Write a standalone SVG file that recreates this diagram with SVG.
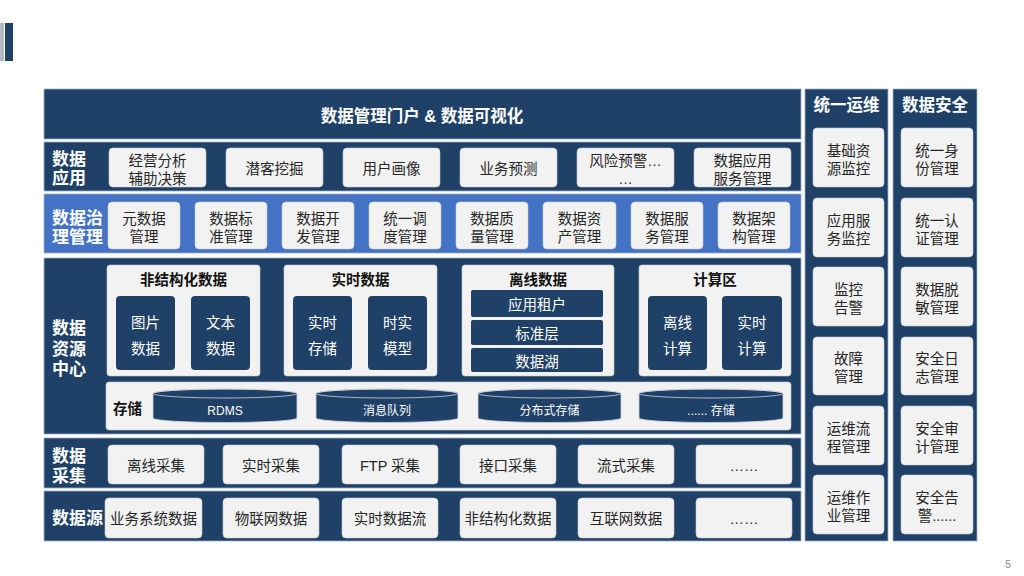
<svg xmlns="http://www.w3.org/2000/svg" width="1024" height="576" viewBox="0 0 1024 576">
<style>
text{font-family:"Liberation Sans","Noto Sans CJK SC",sans-serif;dominant-baseline:central}
.band{fill:#1F4167;stroke:#9fb0c4;stroke-width:0.8}
.gov{fill:#4472C4;stroke:#9fb0c4;stroke-width:0.8}
.box{fill:#F2F2F2;stroke:#c9cdd2;stroke-width:0.6}
.dbox{fill:#1F4167}
.lbl{fill:#fff;font-size:17px;font-weight:bold}
.bt{fill:#262626;font-size:14.5px;text-anchor:middle}
.wt{fill:#fff;font-size:14.5px;text-anchor:middle}
.pt{fill:#111;font-size:14.5px;font-weight:bold;text-anchor:middle}
.hd{fill:#fff;font-size:16.5px;font-weight:bold;text-anchor:middle}
.cyl{fill:#1F4167;stroke:#d0d6de;stroke-width:0.8}
.rim{fill:none;stroke:#d0d6de;stroke-width:0.8}
.ct{fill:#fff;font-size:12px;text-anchor:middle}
</style>

<g id="deco">
<rect x="0" y="23" width="4" height="38" fill="#b6bac2"/>
<rect x="5" y="23" width="8" height="38" fill="#1F4167"/>
</g>

<g id="portal">
<rect class="band" x="44" y="89" width="757" height="50"/>
<text class="hd" x="422" y="116" font-size="16px">数据管理门户 &amp; 数据可视化</text>
</g>

<g id="app">
<rect class="band" x="44" y="142" width="757" height="49"/>
<text class="lbl" x="52" y="159">数据<tspan x="52" dy="19">应用</tspan></text>
<rect class="box" x="109" y="148" width="97" height="39" rx="4"/>
<text class="bt" x="157.5" y="161">经营分析<tspan x="157.5" dy="18">辅助决策</tspan></text>
<rect class="box" x="226" y="148" width="97" height="39" rx="4"/>
<text class="bt" x="274.5" y="169">潜客挖掘</text>
<rect class="box" x="343" y="148" width="97" height="39" rx="4"/>
<text class="bt" x="391.5" y="169">用户画像</text>
<rect class="box" x="460" y="148" width="97" height="39" rx="4"/>
<text class="bt" x="508.5" y="169">业务预测</text>
<rect class="box" x="577" y="148" width="97" height="39" rx="4"/>
<text class="bt" x="625.5" y="161">风险预警…<tspan x="625.5" dy="18">…</tspan></text>
<rect class="box" x="694" y="148" width="97" height="39" rx="4"/>
<text class="bt" x="742.5" y="161">数据应用<tspan x="742.5" dy="18">服务管理</tspan></text>
</g>

<g id="governance">
<rect class="gov" x="44" y="194" width="757" height="59"/>
<text class="lbl" x="52" y="218">数据治<tspan x="52" dy="19">理管理</tspan></text>
<rect class="box" x="108" y="202" width="72" height="47" rx="4"/>
<text class="bt" x="144" y="219">元数据<tspan x="144" dy="17.5">管理</tspan></text>
<rect class="box" x="195" y="202" width="72" height="47" rx="4"/>
<text class="bt" x="231" y="219">数据标<tspan x="231" dy="17.5">准管理</tspan></text>
<rect class="box" x="282" y="202" width="72" height="47" rx="4"/>
<text class="bt" x="318" y="219">数据开<tspan x="318" dy="17.5">发管理</tspan></text>
<rect class="box" x="369" y="202" width="72" height="47" rx="4"/>
<text class="bt" x="405" y="219">统一调<tspan x="405" dy="17.5">度管理</tspan></text>
<rect class="box" x="456" y="202" width="72" height="47" rx="4"/>
<text class="bt" x="492" y="219">数据质<tspan x="492" dy="17.5">量管理</tspan></text>
<rect class="box" x="543" y="202" width="73" height="47" rx="4"/>
<text class="bt" x="579.5" y="219">数据资<tspan x="579.5" dy="17.5">产管理</tspan></text>
<rect class="box" x="631" y="202" width="72" height="47" rx="4"/>
<text class="bt" x="667" y="219">数据服<tspan x="667" dy="17.5">务管理</tspan></text>
<rect class="box" x="718" y="202" width="72" height="47" rx="4"/>
<text class="bt" x="754" y="219">数据架<tspan x="754" dy="17.5">构管理</tspan></text>
</g>

<g id="resource">
<rect class="band" x="44" y="258" width="757" height="176"/>
<text class="lbl" x="52" y="328">数据<tspan x="52" dy="20.5">资源</tspan><tspan x="52" dy="20.5">中心</tspan></text>

<g id="unstructured">
<rect class="box" x="107" y="265" width="153" height="111" rx="3"/>
<text class="pt" x="183.5" y="280">非结构化数据</text>
<rect class="dbox" x="116" y="296" width="59" height="74" rx="4"/>
<text class="wt" x="145.5" y="323">图片<tspan x="145.5" dy="26">数据</tspan></text>
<rect class="dbox" x="191" y="296" width="59" height="74" rx="4"/>
<text class="wt" x="220.5" y="323">文本<tspan x="220.5" dy="26">数据</tspan></text>
</g>

<g id="realtime">
<rect class="box" x="284" y="265" width="153" height="111" rx="3"/>
<text class="pt" x="360.5" y="280">实时数据</text>
<rect class="dbox" x="293" y="296" width="59" height="74" rx="4"/>
<text class="wt" x="322.5" y="323">实时<tspan x="322.5" dy="26">存储</tspan></text>
<rect class="dbox" x="368" y="296" width="59" height="74" rx="4"/>
<text class="wt" x="397.5" y="323">时实<tspan x="397.5" dy="26">模型</tspan></text>
</g>

<g id="offline">
<rect class="box" x="462" y="265" width="152" height="111" rx="3"/>
<text class="pt" x="538" y="280">离线数据</text>
<rect class="dbox" x="471" y="290" width="132" height="27" rx="2"/>
<text class="wt" x="537" y="305">应用租户</text>
<rect class="dbox" x="471" y="320" width="132" height="25" rx="2"/>
<text class="wt" x="537" y="334">标准层</text>
<rect class="dbox" x="471" y="348" width="132" height="24" rx="2"/>
<text class="wt" x="537" y="362">数据湖</text>
</g>

<g id="compute">
<rect class="box" x="639" y="265" width="152" height="111" rx="3"/>
<text class="pt" x="715" y="280">计算区</text>
<rect class="dbox" x="648" y="296" width="59" height="74" rx="4"/>
<text class="wt" x="677.5" y="323">离线<tspan x="677.5" dy="26">计算</tspan></text>
<rect class="dbox" x="722" y="296" width="60" height="74" rx="4"/>
<text class="wt" x="752" y="323">实时<tspan x="752" dy="26">计算</tspan></text>
</g>

<g id="storage">
<rect class="box" x="106" y="382" width="685" height="48" rx="3"/>
<text x="113" y="409" fill="#111" font-size="14.5px" font-weight="bold">存储</text>
<path class="cyl" d="M153,393.5 A72,4.5 0 0 1 297,393.5 V418 A72,4.5 0 0 1 153,418 Z"/>
<ellipse class="rim" cx="225" cy="393.5" rx="72" ry="4.5"/>
<text class="ct" x="225" y="411">RDMS</text>
<path class="cyl" d="M316,393.5 A71,4.5 0 0 1 458,393.5 V418 A71,4.5 0 0 1 316,418 Z"/>
<ellipse class="rim" cx="387" cy="393.5" rx="71" ry="4.5"/>
<text class="ct" x="387" y="411">消息队列</text>
<path class="cyl" d="M478,393.5 A71.5,4.5 0 0 1 621,393.5 V418 A71.5,4.5 0 0 1 478,418 Z"/>
<ellipse class="rim" cx="549.5" cy="393.5" rx="71.5" ry="4.5"/>
<text class="ct" x="549.5" y="411">分布式存储</text>
<path class="cyl" d="M639,393.5 A72,4.5 0 0 1 783,393.5 V418 A72,4.5 0 0 1 639,418 Z"/>
<ellipse class="rim" cx="711" cy="393.5" rx="72" ry="4.5"/>
<text class="ct" x="711" y="411">...... 存储</text>
</g>
</g>

<g id="collect">
<rect class="band" x="44" y="438" width="757" height="50"/>
<text class="lbl" x="52" y="456">数据<tspan x="52" dy="20">采集</tspan></text>
<rect class="box" x="108" y="445" width="96" height="39" rx="4"/>
<text class="bt" x="156" y="466">离线采集</text>
<rect class="box" x="223" y="445" width="96" height="39" rx="4"/>
<text class="bt" x="271" y="466">实时采集</text>
<rect class="box" x="342" y="445" width="96" height="39" rx="4"/>
<text class="bt" x="390" y="466">FTP 采集</text>
<rect class="box" x="460" y="445" width="96" height="39" rx="4"/>
<text class="bt" x="508" y="466">接口采集</text>
<rect class="box" x="578" y="445" width="96" height="39" rx="4"/>
<text class="bt" x="626" y="466">流式采集</text>
<rect class="box" x="696" y="445" width="96" height="39" rx="4"/>
<text class="bt" x="744" y="466">……</text>
</g>

<g id="source">
<rect class="band" x="44" y="491" width="757" height="50"/>
<text class="lbl" x="52" y="518">数据源</text>
<rect class="box" x="105" y="498" width="97" height="40" rx="4"/>
<text class="bt" x="153.5" y="519">业务系统数据</text>
<rect class="box" x="223" y="498" width="96" height="40" rx="4"/>
<text class="bt" x="271" y="519">物联网数据</text>
<rect class="box" x="342" y="498" width="96" height="40" rx="4"/>
<text class="bt" x="390" y="519">实时数据流</text>
<rect class="box" x="460" y="498" width="96" height="40" rx="4"/>
<text class="bt" x="508" y="519">非结构化数据</text>
<rect class="box" x="578" y="498" width="96" height="40" rx="4"/>
<text class="bt" x="626" y="519">互联网数据</text>
<rect class="box" x="696" y="498" width="96" height="40" rx="4"/>
<text class="bt" x="744" y="519">……</text>
</g>

<g id="ops">
<rect class="band" x="805" y="89" width="83" height="452"/>
<text class="hd" x="846.5" y="105">统一运维</text>
<rect class="box" x="813" y="128" width="71" height="59" rx="4"/>
<text class="bt" x="848.5" y="151">基础资<tspan x="848.5" dy="18">源监控</tspan></text>
<rect class="box" x="813" y="198" width="71" height="59" rx="4"/>
<text class="bt" x="848.5" y="221">应用服<tspan x="848.5" dy="18">务监控</tspan></text>
<rect class="box" x="813" y="267" width="71" height="59" rx="4"/>
<text class="bt" x="848.5" y="290">监控<tspan x="848.5" dy="18">告警</tspan></text>
<rect class="box" x="813" y="337" width="71" height="58" rx="4"/>
<text class="bt" x="848.5" y="359">故障<tspan x="848.5" dy="18">管理</tspan></text>
<rect class="box" x="813" y="406" width="71" height="59" rx="4"/>
<text class="bt" x="848.5" y="429">运维流<tspan x="848.5" dy="18">程管理</tspan></text>
<rect class="box" x="813" y="475" width="71" height="59" rx="4"/>
<text class="bt" x="848.5" y="498">运维作<tspan x="848.5" dy="18">业管理</tspan></text>
</g>

<g id="security">
<rect class="band" x="893" y="89" width="84" height="452"/>
<text class="hd" x="935" y="105">数据安全</text>
<rect class="box" x="901" y="128" width="72" height="59" rx="4"/>
<text class="bt" x="937" y="151">统一身<tspan x="937" dy="18">份管理</tspan></text>
<rect class="box" x="901" y="198" width="72" height="59" rx="4"/>
<text class="bt" x="937" y="221">统一认<tspan x="937" dy="18">证管理</tspan></text>
<rect class="box" x="901" y="267" width="72" height="59" rx="4"/>
<text class="bt" x="937" y="290">数据脱<tspan x="937" dy="18">敏管理</tspan></text>
<rect class="box" x="901" y="337" width="72" height="58" rx="4"/>
<text class="bt" x="937" y="359">安全日<tspan x="937" dy="18">志管理</tspan></text>
<rect class="box" x="901" y="406" width="72" height="59" rx="4"/>
<text class="bt" x="937" y="429">安全审<tspan x="937" dy="18">计管理</tspan></text>
<rect class="box" x="901" y="475" width="72" height="59" rx="4"/>
<text class="bt" x="937" y="498">安全告<tspan x="937" dy="18">警......</tspan></text>
</g>

<g id="connectors"></g>

<text x="1008" y="564" fill="#8c8c8c" font-size="11px" text-anchor="middle">5</text>
</svg>
